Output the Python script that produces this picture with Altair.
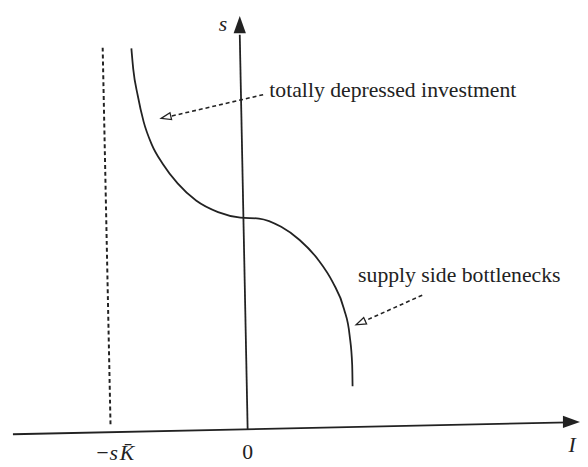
import altair as alt
import pandas as pd

# ---- values (units: I horizontally, s vertically) ----
curve_I = [-1.139, -1.12, -1.075, -1.015, -0.933, -0.82, -0.67, -0.483, -0.26, -0.033,
           0.155, 0.38, 0.567, 0.755, 0.905, 1.017, 1.074, 1.10, 1.104]
curve_s = [3.863, 3.653, 3.387, 3.12, 2.89, 2.69, 2.493, 2.32, 2.203, 2.147,
           2.137, 2.053, 1.92, 1.72, 1.487, 1.22, 0.953, 0.653, 0.437]

# axes (start -> end of the drawn line)
axis_names = ["I", "s"]
axis_x1 = [-2.34, 0.04]
axis_y1 = [-0.05, 0.0]
axis_x2 = [3.30, -0.04]
axis_y2 = [0.07, 4.00]
# solid arrow heads at the tips of the axes
tip_x = [3.41, -0.04]
tip_y = [0.075, 4.19]
tip_angle = [90, 0]

# dashed asymptote at -sK
asym_x = [-1.43, -1.35]
asym_y = [3.87, 0.02]

# annotations
ann_text = ["totally depressed investment", "supply side bottlenecks"]
ann_tx = [0.26, 1.16]
ann_ty = [3.37, 1.49]
ann_x1 = [0.197, 1.81]
ann_y1 = [3.393, 1.36]
ann_x2 = [-0.75, 1.23]
ann_y2 = [3.172, 1.10]
ann_tipx = [-0.837, 1.14]
ann_tipy = [3.153, 1.06]
ann_angle = [257, 246]

# axis labels
ital_labels = ["s", "I", "\u2212s\u200aK\u0304"]
ital_x = [-0.21, 3.33, -1.31]
ital_y = [4.04, -0.23, -0.31]
tick_labels = ["0"]
tick_x = [0.04]
tick_y = [-0.30]

# ---- chart ----
XD = [-2.39, 3.41]
YD = [-0.35, 4.24]
INK = "#222222"
FONT = "Liberation Serif"

xs = alt.Scale(domain=XD, nice=False, zero=False)
ys = alt.Scale(domain=YD, nice=False, zero=False)

curve_df = pd.DataFrame({"I": curve_I, "s": curve_s, "k": list(range(len(curve_I)))})
axes_df = pd.DataFrame({"name": axis_names, "x": axis_x1, "y": axis_y1, "x2": axis_x2, "y2": axis_y2})
tips_df = pd.DataFrame({"x": tip_x, "y": tip_y, "a": tip_angle})
asym_df = pd.DataFrame({"x": [asym_x[0]], "y": [asym_y[0]], "x2": [asym_x[1]], "y2": [asym_y[1]]})
annl_df = pd.DataFrame({"x": ann_x1, "y": ann_y1, "x2": ann_x2, "y2": ann_y2})
annh_df = pd.DataFrame({"x": ann_tipx, "y": ann_tipy, "a": ann_angle})
annt_df = pd.DataFrame({"t": ann_text, "x": ann_tx, "y": ann_ty})
ital_df = pd.DataFrame({"t": ital_labels, "x": ital_x, "y": ital_y})
tick_df = pd.DataFrame({"t": tick_labels, "x": tick_x, "y": tick_y})

X = lambda f="x": alt.X(f"{f}:Q", scale=xs, axis=None)
Y = lambda f="y": alt.Y(f"{f}:Q", scale=ys, axis=None)

axes = alt.Chart(axes_df).mark_rule(color=INK, strokeWidth=1.8).encode(
    x=X(), y=Y(), x2="x2:Q", y2="y2:Q")

arrow_path = "M0,0 L0.72,2 L-0.72,2 Z"
tips = alt.Chart(tips_df).mark_point(
    shape=arrow_path, filled=True, size=300, color=INK, opacity=1, strokeWidth=0.5
).encode(x=X(), y=Y(), angle=alt.Angle("a:Q", scale=None))

asym = alt.Chart(asym_df).mark_rule(color=INK, strokeWidth=2, strokeDash=[4, 3]).encode(
    x=X(), y=Y(), x2="x2:Q", y2="y2:Q")

curve = alt.Chart(curve_df).mark_line(color=INK, strokeWidth=1.8, interpolate="monotone").encode(
    x=X("I"), y=Y("s"), order="k:Q")

annl = alt.Chart(annl_df).mark_rule(color=INK, strokeWidth=1.6, strokeDash=[4, 3]).encode(
    x=X(), y=Y(), x2="x2:Q", y2="y2:Q")

annh = alt.Chart(annh_df).mark_point(
    shape=arrow_path, filled=False, size=100, color=INK, opacity=1, strokeWidth=1.3
).encode(x=X(), y=Y(), angle=alt.Angle("a:Q", scale=None))

annt = alt.Chart(annt_df).mark_text(
    font=FONT, fontSize=22, color=INK, align="left", baseline="alphabetic"
).encode(x=X(), y=Y(), text="t:N")

ital = alt.Chart(ital_df).mark_text(
    font=FONT, fontSize=22, fontStyle="italic", color=INK, align="center", baseline="alphabetic"
).encode(x=X(), y=Y(), text="t:N")

ticks = alt.Chart(tick_df).mark_text(
    font=FONT, fontSize=22, color=INK, align="center", baseline="alphabetic"
).encode(x=X(), y=Y(), text="t:N")

chart = alt.layer(axes, asym, curve, annl, annh, tips, annt, ital, ticks).properties(
    width=580, height=459, padding=0,
    autosize=alt.AutoSizeParams(type="none"),
    background="white",
).configure_view(strokeWidth=0)

chart.save("out.html", embed_options={"renderer": "svg", "actions": False})
